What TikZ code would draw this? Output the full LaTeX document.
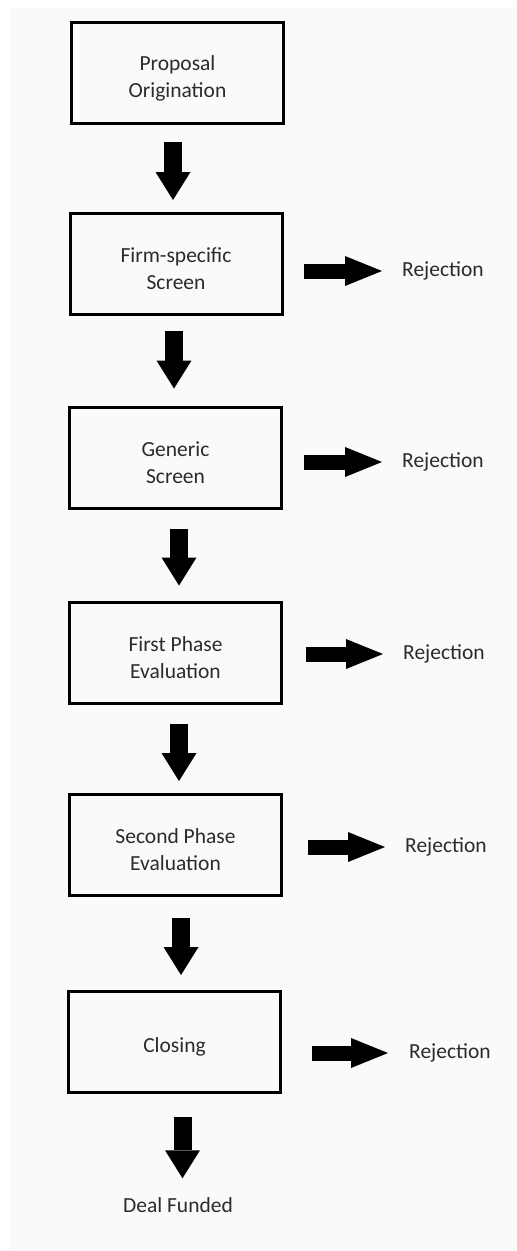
\documentclass[tikz,border=0pt]{standalone}
\usepackage{fontspec}
\setmainfont{Carlito}
\usetikzlibrary{arrows.meta}
\definecolor{bg}{HTML}{FAFAFA}
\definecolor{txt}{HTML}{2B2B2B}
\newcommand{\tpush}{\rule{0pt}{25pt}}
\begin{document}
\begin{tikzpicture}[x=1pt,y=-1pt,
  box/.style={draw=black, line width=3pt, minimum width=212pt, minimum height=101pt,
    align=center, text=txt, font=\fontsize{21.5}{27}\selectfont, inner sep=0pt},
  lbl/.style={text=txt, font=\fontsize{21.5}{24}\selectfont, inner sep=0pt},
  downarr/.style={draw=black, line width=18pt, -{Triangle[length=28pt,width=35pt,line width=0pt]}},
  rightarr/.style={draw=black, line width=15pt, -{Triangle[length=37pt,width=30pt,line width=0pt]}},
]
\fill[white] (0,0) rectangle (517,1251);
\fill[bg] (10,8) rectangle (517,1251);
\useasboundingbox (0,0) rectangle (517,1251);

\node[box] (b1) at (177.5,73) {\tpush Proposal\\Origination};
\node[box] (b2) at (176,264) {\tpush Firm-specific\\Screen};
\node[box] (b3) at (175.5,457.5) {\tpush Generic\\Screen};
\node[box] (b4) at (175.5,652.5) {\tpush First Phase\\Evaluation};
\node[box] (b5) at (175.5,845) {\tpush Second Phase\\Evaluation};
\node[box] (b6) at (174.5,1042) {\tpush Closing};

\node[lbl, anchor=west] (r2) at (402,271) {Rejection};
\node[lbl, anchor=west] (r3) at (402,462) {Rejection};
\node[lbl, anchor=west] (r4) at (403,654) {Rejection};
\node[lbl, anchor=west] (r5) at (405,847) {Rejection};
\node[lbl, anchor=west] (r6) at (409,1053) {Rejection};
\node[lbl] (df) at (178,1205) {Deal Funded};

% downward block arrows
\draw[downarr, shorten <=17pt, shorten >=12pt] (b1.south) ++(-4.5,0) coordinate (s1) -- (s1 |- b2.north);
\draw[downarr, shorten <=15pt, shorten >=17pt] (b2.south) ++(-2,0) coordinate (s2) -- (s2 |- b3.north);
\draw[downarr, shorten <=19pt, shorten >=15pt] (b3.south) ++(3.5,0) coordinate (s3) -- (s3 |- b4.north);
\draw[downarr, shorten <=19pt, shorten >=12pt] (b4.south) ++(3.5,0) coordinate (s4) -- (s4 |- b5.north);
\draw[downarr, shorten <=21pt, shorten >=15pt] (b5.south) ++(5.5,0) coordinate (s5) -- (s5 |- b6.north);
\draw[downarr, shorten <=23pt, shorten >=19pt] (b6.south) ++(8,0) coordinate (s6) -- (s6 |- df.north);

% rejection arrows
\draw[rightarr, shorten <=20pt, shorten >=20pt] (b2.east |- r2.west) -- (r2.west);
\draw[rightarr, shorten <=21pt, shorten >=20pt] (b3.east |- r3.west) -- (r3.west);
\draw[rightarr, shorten <=23pt, shorten >=20pt] (b4.east |- r4.west) -- (r4.west);
\draw[rightarr, shorten <=25pt, shorten >=20pt] (b5.east |- r5.west) -- (r5.west);
\draw[rightarr, shorten <=30pt, shorten >=21pt] (b6.east |- r6.west) -- (r6.west);
\end{tikzpicture}
\end{document}
